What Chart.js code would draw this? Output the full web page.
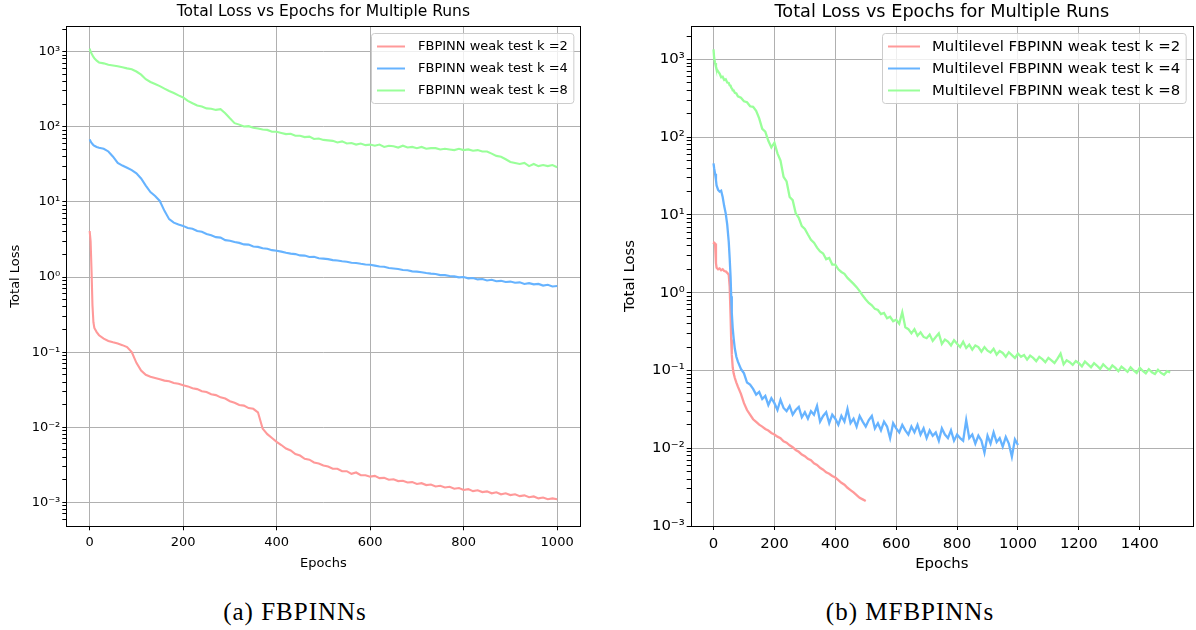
<!DOCTYPE html>
<html>
<head>
<meta charset="utf-8">
<script src="https://cdn.jsdelivr.net/npm/chart.js@4.4.1/dist/chart.umd.min.js"></script>
<style>
  html, body { margin: 0; padding: 0; background: #fff; }
  #wrap { position: relative; width: 1196px; height: 630px; overflow: hidden; }
  canvas { position: absolute; top: 0; }
  #chart-a { left: 0; }
  #chart-b { left: 598px; }
  .caption {
    position: absolute; top: 598px; line-height: 28px;
    font-family: 'Liberation Serif', serif; font-size: 25px; letter-spacing: 1px;
    transform: translateX(-50%); white-space: nowrap; color: #000;
  }
</style>
</head>
<body>
<div id="wrap">
  <canvas id="chart-a" width="598" height="580"></canvas>
  <canvas id="chart-b" width="598" height="580"></canvas>
  <div class="caption" style="left:295px">(a) FBPINNs</div>
  <div class="caption" style="left:910px">(b) MFBPINNs</div>
</div>
<script>
// ---- data ----
const titleText = 'Total Loss vs Epochs for Multiple Runs';
const seriesColors = ['#ff9999', '#66b3ff', '#99ff99'];

const labelsLeft = ['FBPINN weak test k =2', 'FBPINN weak test k =4', 'FBPINN weak test k =8'];
const labelsRight = ['Multilevel FBPINN weak test k =2', 'Multilevel FBPINN weak test k =4', 'Multilevel FBPINN weak test k =8'];

const xTicksLeft = [0, 200, 400, 600, 800, 1000];
const xTicksRight = [0, 200, 400, 600, 800, 1000, 1200, 1400];

const epochsLeft = [
  0, 2, 4, 6, 8, 10, 15, 20, 30, 40, 50, 60, 70, 80, 90,
  100, 110, 120, 130, 140, 150, 160, 170, 180, 190,
  200, 210, 220, 230, 240, 250, 260, 270, 280, 290,
  300, 310, 320, 330, 340, 350, 360, 370, 380, 390,
  400, 410, 420, 430, 440, 450, 460, 470, 480, 490,
  500, 510, 520, 530, 540, 550, 560, 570, 580, 590,
  600, 610, 620, 630, 640, 650, 660, 670, 680, 690,
  700, 710, 720, 730, 740, 750, 760, 770, 780, 790,
  800, 810, 820, 830, 840, 850, 860, 870, 880, 890,
  900, 910, 920, 930, 940, 950, 960, 970, 980, 990, 1000
];

const lossLeftK2 = [
  4.1, 3.0, 1.2, 0.42, 0.25, 0.21, 0.185, 0.168, 0.151, 0.141, 0.135, 0.130, 0.124, 0.117, 0.100,
  0.072, 0.057, 0.050, 0.047, 0.0452, 0.0436, 0.0418, 0.0410, 0.0388, 0.0380,
  0.0362, 0.0350, 0.0330, 0.0322, 0.0302, 0.0294, 0.0275, 0.0268, 0.0250, 0.0241,
  0.0222, 0.0212, 0.0198, 0.0194, 0.0180, 0.0176, 0.0158, 0.0096, 0.0081, 0.0072,
  0.0064, 0.0058, 0.0052, 0.0049, 0.0044, 0.0042, 0.0038, 0.0037, 0.0034, 0.0033,
  0.0031, 0.0030, 0.0028, 0.0028, 0.0026, 0.0026, 0.0024, 0.0025, 0.0023, 0.0023,
  0.0022, 0.00225, 0.0021, 0.00212, 0.0020, 0.00203, 0.00192, 0.00194, 0.00184, 0.00186,
  0.00176, 0.0018, 0.0017, 0.00173, 0.00163, 0.00166, 0.00158, 0.00161, 0.00152, 0.00155,
  0.00146, 0.0015, 0.00141, 0.00145, 0.00137, 0.0014, 0.00132, 0.00136, 0.00128, 0.00132,
  0.00125, 0.00128, 0.00121, 0.00124, 0.00117, 0.0012, 0.00113, 0.00116, 0.0011, 0.00113, 0.0011
];

const lossLeftK4 = [
  68, 64, 61, 59, 57, 56, 54, 52.5, 51, 47, 40, 33, 30.5, 28.5, 26.5,
  24, 20.5, 16.5, 13.5, 12, 10.3, 7.6, 5.9, 5.3, 5.0,
  4.8, 4.5, 4.4, 4.1, 4.0, 3.75, 3.6, 3.4, 3.35, 3.1,
  3.05, 2.92, 2.85, 2.72, 2.7, 2.55, 2.52, 2.42, 2.38, 2.28,
  2.24, 2.18, 2.1, 2.05, 2.02, 1.94, 1.93, 1.85, 1.86, 1.78,
  1.76, 1.73, 1.68, 1.66, 1.62, 1.6, 1.55, 1.54, 1.5, 1.47,
  1.46, 1.42, 1.38, 1.37, 1.32, 1.3, 1.28, 1.24, 1.23, 1.19,
  1.18, 1.16, 1.13, 1.11, 1.1, 1.06, 1.06, 1.03, 1.02, 0.99,
  1.0, 0.96, 0.97, 0.93, 0.94, 0.9, 0.92, 0.88, 0.89, 0.86,
  0.87, 0.84, 0.85, 0.81, 0.83, 0.8, 0.81, 0.77, 0.79, 0.75, 0.76
];

const lossLeftK8 = [
  1100, 1000, 950, 900, 850, 820, 760, 720, 700, 670, 655, 640, 620, 600, 585,
  545, 495, 430, 395, 372, 348, 322, 300, 282, 262,
  246, 222, 206, 192, 186, 176, 174, 168, 172, 152,
  130, 112, 107, 101, 102, 97, 95, 92, 91, 86,
  86, 83, 80, 81, 76, 76, 73, 74, 69, 70,
  67, 66, 65, 62, 64, 60, 61, 58, 60, 57,
  58, 56, 58, 54, 56, 55, 53, 56, 53, 54,
  52, 54, 51, 52, 52, 50, 51, 50, 49, 51,
  49, 50, 48, 49, 47, 47, 44, 41, 40, 37,
  34, 33, 32, 33, 30, 32, 30, 31, 30, 31, 29
];

const epochsRight = [
  0, 2, 5, 8, 10, 15, 20, 25, 30, 35, 40, 45, 50, 53, 56, 58, 60, 63, 66, 70, 75, 80, 90,
  100, 110, 120, 130, 140, 150, 160, 170, 180, 190,
  200, 210, 220, 230, 240, 250, 260, 270, 280, 290,
  300, 310, 320, 330, 340, 350, 360, 370, 380, 390,
  400, 410, 420, 430, 440, 450, 460, 470, 480, 490,
  500, 510, 520, 530, 540, 550, 560, 570, 580, 590,
  600, 610, 620, 630, 640, 650, 660, 670, 680, 690,
  700, 710, 720, 730, 740, 750, 760, 770, 780, 790,
  800, 810, 820, 830, 840, 850, 860, 870, 880, 890,
  900, 910, 920, 930, 940, 950, 960, 970, 980, 990,
  1000, 1010, 1020, 1030, 1040, 1050, 1060, 1070, 1080, 1090,
  1100, 1110, 1120, 1130, 1140, 1150, 1160, 1170, 1180, 1190,
  1200, 1210, 1220, 1230, 1240, 1250, 1260, 1270, 1280, 1290,
  1300, 1310, 1320, 1330, 1340, 1350, 1360, 1370, 1380, 1390,
  1400, 1410, 1420, 1430, 1440, 1450, 1460, 1470, 1480, 1490, 1500
];

const lossRightK2 = [
  4.2, 4.4, 4.3, 2.4, 2.1, 2.0, 2.05, 1.95, 2.0, 1.9, 1.88, 1.8, 1.7, 1.2, 0.5, 0.25, 0.16, 0.11, 0.092, 0.08, 0.07, 0.062, 0.05,
  0.038, 0.031, 0.027, 0.0236, 0.0218, 0.0201, 0.0190, 0.0177, 0.0169, 0.0157,
  0.0150, 0.0141, 0.0135, 0.0123, 0.0118, 0.0109, 0.0103, 0.0095, 0.0090, 0.0083,
  0.0079, 0.0073, 0.0070, 0.0064, 0.0061, 0.0056, 0.0053, 0.0049, 0.0047, 0.0044,
  0.0042, 0.0039, 0.0036, 0.0034, 0.0031, 0.0029, 0.0027, 0.0025, 0.0023, 0.0022, 0.0021
];

const lossRightK4 = [
  46, 40, 34, 28, 24, 21, 20, 20.5, 17, 13, 10.5, 7.5, 4.5, 2.8, 1.6, 0.9, 0.55, 0.35, 0.26, 0.19, 0.15, 0.13, 0.105,
  0.092, 0.07, 0.066, 0.058, 0.049, 0.053, 0.043, 0.047, 0.036, 0.044,
  0.038, 0.031, 0.042, 0.033, 0.03, 0.035, 0.027, 0.031, 0.034, 0.025,
  0.029, 0.024, 0.03, 0.027, 0.035, 0.022, 0.026, 0.029, 0.021, 0.027,
  0.024, 0.02, 0.026, 0.022, 0.032, 0.021, 0.024, 0.019, 0.026, 0.022,
  0.019, 0.023, 0.026, 0.018, 0.021, 0.017, 0.022, 0.019, 0.0135, 0.021,
  0.018, 0.016, 0.02, 0.017, 0.015, 0.019, 0.016, 0.02, 0.015, 0.018,
  0.0135, 0.017, 0.0145, 0.016, 0.0125, 0.018, 0.015, 0.0135, 0.017, 0.0125,
  0.015, 0.0135, 0.0125, 0.023, 0.0135, 0.015, 0.0115, 0.0145, 0.0125, 0.0088,
  0.0145, 0.0115, 0.016, 0.012, 0.0135, 0.0105, 0.014, 0.0115, 0.0078, 0.013, 0.011
];

const lossRightK8 = [
  1350, 1050, 900, 800, 760, 700, 660, 590, 600, 545, 555, 505, 500, 465, 460, 435, 432, 400, 400, 372, 365, 335, 322,
  290, 282, 250, 246, 218, 175, 128, 118, 90, 74,
  85, 62, 50, 31, 27, 17, 15.5, 10.5, 9.2, 7.2,
  6.6, 5.6, 4.8, 4.4, 3.8, 3.4, 3.2, 2.7, 2.8, 2.3,
  2.3, 2.0, 1.85, 1.75, 1.55, 1.42, 1.3, 1.18, 1.05, 0.92,
  0.82, 0.74, 0.69, 0.62, 0.6, 0.53, 0.55, 0.47, 0.49, 0.43,
  0.45, 0.4, 0.56, 0.36, 0.34, 0.3, 0.34, 0.28, 0.31, 0.27,
  0.26, 0.29, 0.24, 0.27, 0.3, 0.22, 0.25, 0.235, 0.21, 0.245,
  0.22, 0.2, 0.235, 0.195, 0.215, 0.185, 0.21, 0.2, 0.175, 0.2,
  0.18, 0.17, 0.19, 0.16, 0.178, 0.168, 0.15, 0.172, 0.158, 0.145,
  0.165, 0.15, 0.158, 0.138, 0.155, 0.145, 0.132, 0.15, 0.14, 0.128,
  0.145, 0.135, 0.125, 0.142, 0.165, 0.12, 0.135, 0.128, 0.118, 0.132,
  0.124, 0.113, 0.13, 0.12, 0.11, 0.124, 0.115, 0.105, 0.12, 0.11,
  0.102, 0.116, 0.108, 0.098, 0.112, 0.104, 0.096, 0.11, 0.1, 0.093,
  0.108, 0.099, 0.092, 0.104, 0.095, 0.09, 0.102, 0.093, 0.088, 0.098, 0.094
];

// ---- helpers ----
const fontFamily = 'DejaVu Sans';
const gridColor = '#b0b0b0';
const supChars = { '-': '\u207B', '0': '\u2070', '1': '\u00B9', '2': '\u00B2', '3': '\u00B3',
  '4': '\u2074', '5': '\u2075', '6': '\u2076', '7': '\u2077', '8': '\u2078', '9': '\u2079' };

const isPow10 = v => {
  const e = Math.log10(v);
  return Math.abs(e - Math.round(e)) < 1e-6;
};
const isWholeStep = v => {
  const m = v / Math.pow(10, Math.floor(Math.log10(v) + 1e-9));
  return Math.abs(m - Math.round(m)) < 1e-6;
};
const powLabel = v => '10' + String(Math.round(Math.log10(v))).split('').map(c => supChars[c]).join('');

const toPoints = (epochs, values) => values.map((v, i) => ({ x: epochs[i], y: v }));

const frame = {
  id: 'frame',
  afterDraw(chart) {
    const { ctx, chartArea: a } = chart;
    ctx.save();
    ctx.strokeStyle = '#000';
    ctx.lineWidth = 1;
    ctx.strokeRect(Math.round(a.left) + 0.5, Math.round(a.top) + 0.5,
      Math.round(a.right - a.left), Math.round(a.bottom - a.top));
    ctx.restore();
  }
};

// legend in a rounded, semi-transparent box at the top right of the plot
const boxLegend = {
  id: 'boxLegend',
  afterDraw(chart, args, opts) {
    const { ctx, chartArea: a } = chart;
    const sets = chart.data.datasets;
    ctx.save();
    ctx.font = opts.fontSize + 'px "' + fontFamily + '"';
    const textW = Math.max(...sets.map(d => ctx.measureText(d.label).width));
    const rowH = 22, padX = 5.5;
    const w = padX + opts.lineW + opts.gap + textW + 6;
    const h = 26 + (sets.length - 1) * rowH;
    const x = Math.round(a.right - 7 - w) + 0.5, y = Math.round(a.top + 7) + 0.5;
    ctx.beginPath();
    if (ctx.roundRect) ctx.roundRect(x, y, w, h, 3); else ctx.rect(x, y, w, h);
    ctx.fillStyle = 'rgba(255,255,255,0.8)';
    ctx.fill();
    ctx.strokeStyle = '#cccccc';
    ctx.lineWidth = 1;
    ctx.stroke();
    sets.forEach((d, i) => {
      const cy = y + 13 + i * rowH;
      ctx.strokeStyle = d.borderColor;
      ctx.lineWidth = 2;
      ctx.beginPath();
      ctx.moveTo(x + padX, cy);
      ctx.lineTo(x + padX + opts.lineW, cy);
      ctx.stroke();
      ctx.fillStyle = '#000';
      ctx.textBaseline = 'middle';
      ctx.textAlign = 'left';
      ctx.fillText(d.label, x + padX + opts.lineW + opts.gap, cy + 0.5);
    });
    ctx.restore();
  }
};

function epochAxis(cfg) {
  const font = { family: fontFamily, size: cfg.fontSize };
  return {
    type: 'linear', min: cfg.xMin, max: cfg.xMax,
    afterBuildTicks: s => { s.ticks = cfg.xTicks.map(v => ({ value: v })); },
    afterFit: s => { s.height = cfg.xHeight; },
    title: { display: true, text: 'Epochs', color: '#000', font, padding: { top: 0, bottom: cfg.xTitlePad } },
    ticks: { color: '#000', font, padding: 5, maxRotation: 0, autoSkip: false, callback: v => String(v) },
    grid: { color: gridColor, tickColor: '#000', tickLength: 4, lineWidth: 1 },
    border: { display: false }
  };
}

function lossAxis(cfg) {
  const font = { family: fontFamily, size: cfg.fontSize };
  return {
    type: 'logarithmic', min: cfg.yMin, max: cfg.yMax,
    afterFit: s => { s.width = cfg.yWidth; },
    title: { display: true, text: 'Total Loss', color: '#000', font, padding: { top: cfg.yTitlePad, bottom: 0 } },
    ticks: { autoSkip: false, color: '#000', font, padding: 2,
      callback: v => isPow10(v) ? powLabel(v) : '' },
    grid: {
      color: c => isPow10(c.tick.value) ? gridColor : 'rgba(0,0,0,0)',
      tickColor: c => isWholeStep(c.tick.value) ? '#000' : 'rgba(0,0,0,0)',
      tickLength: 4, lineWidth: 1
    },
    border: { display: false }
  };
}

function makeDatasets(labels, epochs, seriesList, lineWidth) {
  return seriesList.map((values, i) => ({
    label: labels[i],
    data: toPoints(epochs, values),
    borderColor: seriesColors[i],
    backgroundColor: seriesColors[i],
    borderWidth: lineWidth,
    pointRadius: 0,
    tension: 0,
    fill: false,
    order: seriesList.length - i
  }));
}

function buildChart(canvasId, cfg) {
  return new Chart(document.getElementById(canvasId), {
    type: 'line',
    data: { datasets: makeDatasets(cfg.labels, cfg.epochs, cfg.series, cfg.lineWidth) },
    options: {
      responsive: false,
      animation: false,
      events: [],
      layout: { padding: cfg.padding },
      plugins: {
        legend: { display: false },
        tooltip: { enabled: false },
        title: {
          display: true, text: titleText, fullSize: false, color: '#000',
          font: { family: fontFamily, size: cfg.titleSize, weight: 'normal' },
          padding: cfg.titlePad
        },
        boxLegend: cfg.legend
      },
      scales: {
        x: epochAxis(cfg),
        y: lossAxis(cfg)
      }
    },
    plugins: [frame, boxLegend]
  });
}

Chart.defaults.font.family = fontFamily;

buildChart('chart-a', {
  labels: labelsLeft,
  epochs: epochsLeft,
  series: [lossLeftK2, lossLeftK4, lossLeftK8],
  lineWidth: 2.1,
  fontSize: 13, titleSize: 15.5, titlePad: { top: 2.5, bottom: 4.9 },
  xMin: -50, xMax: 1050, xTicks: xTicksLeft, xHeight: 53.7, xTitlePad: 9,
  yMin: 4.8e-4, yMax: 2200, yWidth: 62.3, yTitlePad: 4.2,
  legend: { fontSize: 13, lineW: 28, gap: 13 },
  padding: { left: 4, right: 17.5, top: 0, bottom: 0 }
});

buildChart('chart-b', {
  labels: labelsRight,
  epochs: epochsRight,
  series: [lossRightK2, lossRightK4, lossRightK8],
  lineWidth: 2.3,
  fontSize: 14.9, titleSize: 17.7, titlePad: { top: 1.4, bottom: 3.4 },
  xMin: -75, xMax: 1575, xTicks: xTicksRight, xHeight: 54, xTitlePad: 7.1,
  yMin: 1e-3, yMax: 2690, yWidth: 70.7, yTitlePad: 1.1,
  legend: { fontSize: 14.9, lineW: 32, gap: 12 },
  padding: { left: 22, right: 3, top: 0, bottom: 0 }
});
</script>
</body>
</html>
